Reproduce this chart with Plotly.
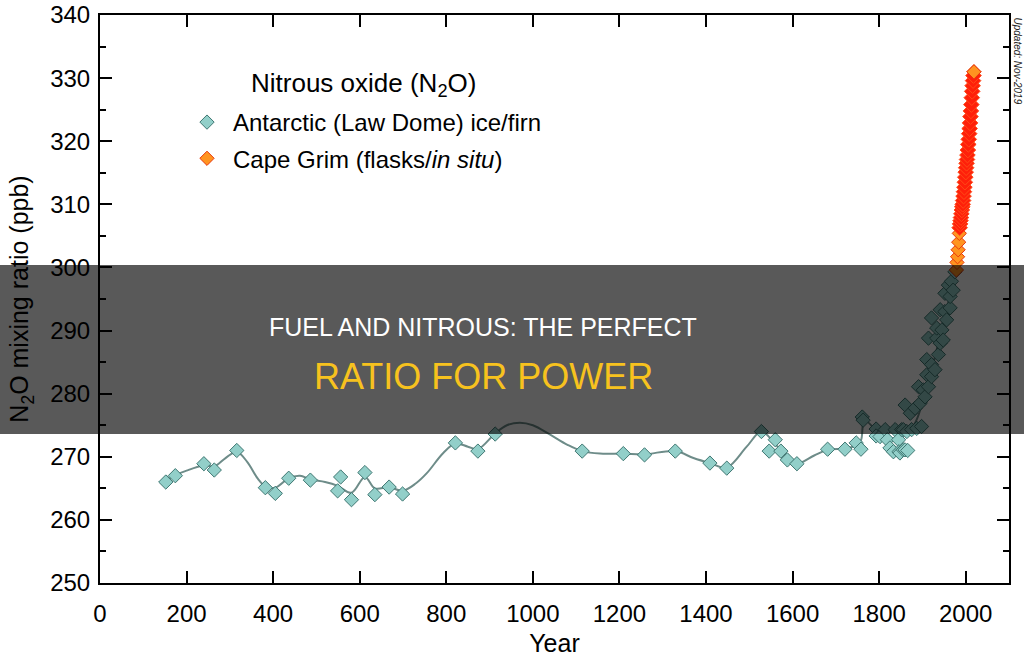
import plotly.graph_objects as go

# ---------------- data ----------------
law_year = [152, 174, 240, 264, 316, 382, 405, 436, 486, 549, 556, 581, 612, 635, 668, 699,
            821, 873, 913, 1114, 1209, 1258, 1329, 1409, 1448, 1528, 1546, 1560, 1573, 1588,
            1610, 1681, 1721, 1747, 1758, 1761, 1763, 1793, 1793, 1802, 1814, 1819, 1825,
            1833, 1837, 1845, 1846, 1848, 1852, 1856, 1856, 1860, 1860, 1864, 1866, 1872,
            1875, 1883, 1887, 1891, 1895, 1898, 1902, 1906, 1910, 1910, 1914, 1914, 1921,
            1921, 1921, 1929, 1933, 1933, 1937, 1941, 1941, 1945, 1948, 1952, 1952, 1956,
            1960, 1964, 1964, 1967, 1971, 1975]
law_ppb = [266.0, 267.0, 268.9, 267.9, 271.0, 265.1, 264.2, 266.6, 266.3, 264.6, 266.8, 263.2,
           267.5, 264.0, 265.2, 264.1, 272.2, 270.9, 273.6, 270.9, 270.5, 270.3, 270.9, 269.0,
           268.2, 274.0, 270.9, 272.7, 270.9, 269.5, 268.9, 271.2, 271.2, 272.2, 271.2, 276.3,
           275.8, 274.4, 273.3, 273.2, 274.3, 272.7, 271.4, 270.8, 274.3, 272.7, 270.8, 270.6,
           274.3, 271.1, 274.3, 271.1, 278.2, 274.0, 271.0, 276.9, 274.3, 277.7, 274.5, 281.1,
           278.5, 274.8, 280.6, 279.5, 283.0, 285.4, 281.1, 288.8, 282.7, 284.6, 292.0, 283.8,
           288.8, 290.4, 286.2, 288.0, 293.3, 290.1, 288.5, 293.0, 295.9, 291.7, 297.2, 293.6,
           295.4, 297.8, 296.4, 299.3]

fit_year = [152, 175, 200, 240, 265, 290, 316, 340, 365, 382, 405, 436, 462, 486, 520, 549,
            581, 612, 635, 668, 699, 730, 755, 793, 821, 850, 873, 913, 940, 970, 1000, 1040,
            1080, 1114, 1155, 1209, 1258, 1329, 1371, 1409, 1448, 1494, 1528, 1560, 1590,
            1610, 1650, 1681, 1721, 1747, 1758, 1766, 1793, 1820, 1850, 1880, 1900, 1920,
            1940, 1960, 1975]
fit_ppb = [266.2, 267.1, 267.8, 268.6, 268.5, 269.8, 270.8, 269.2, 266.5, 265.3, 265.1, 266.6,
           267.0, 266.4, 266.0, 265.4, 264.3, 266.8, 265.0, 265.2, 264.6, 265.8, 267.4, 270.6,
           272.1, 271.6, 271.2, 273.7, 275.0, 275.4, 275.0, 273.5, 271.9, 270.9, 270.5, 270.5,
           270.4, 270.9, 269.8, 269.0, 268.3, 271.6, 274.0, 272.0, 269.8, 268.9, 270.2, 271.1,
           271.3, 271.8, 272.6, 275.8, 274.2, 273.0, 273.2, 275.0, 278.5, 283.3, 289.0, 294.5,
           299.2]

flask_year = [1978.5, 1979.8, 1981.2, 1982.5, 1983.8, 1985.2, 2019.0]
flask_ppb = [299.6, 300.8, 301.7, 302.8, 304.0, 305.4, 331.0]

insitu_year = [1986, 1987, 1988, 1989, 1990, 1991, 1992, 1993, 1994, 1995, 1996, 1997,
               1998, 1999, 2000, 2001, 2002, 2003, 2004, 2005, 2006, 2007, 2008, 2009,
               2010, 2011, 2012, 2013, 2014, 2015, 2016, 2017, 2018]
insitu_ppb = [306.3, 306.9, 307.4, 307.9, 308.5, 309.1, 309.6, 310.0, 310.6, 311.3, 312.0,
              312.7, 313.5, 314.3, 315.1, 315.8, 316.5, 317.1, 317.8, 318.6, 319.5, 320.3,
              321.2, 322.0, 322.9, 323.9, 324.8, 325.8, 326.9, 327.9, 328.8, 329.6, 330.4]

x_ticks = [0, 200, 400, 600, 800, 1000, 1200, 1400, 1600, 1800, 2000]
y_ticks = [250, 260, 270, 280, 290, 300, 310, 320, 330, 340]

FONT = "Liberation Sans, Arial, sans-serif"

fig = go.Figure()

fig.add_trace(go.Scatter(x=fit_year, y=fit_ppb, mode="lines", line_shape="spline",
                         line=dict(color="#6e8c89", width=2), showlegend=False,
                         hoverinfo="skip"))
fig.add_trace(go.Scatter(x=law_year, y=law_ppb, mode="markers",
                         name="Antarctic (Law Dome) ice/firn", legendgroup="a",
                         marker=dict(symbol="diamond", size=11, color="#92cfc9",
                                     line=dict(color="#3f7772", width=1))))
fig.add_trace(go.Scatter(x=flask_year, y=flask_ppb, mode="markers",
                         name="Cape Grim (flasks/<i>in situ</i>)", legendgroup="b",
                         marker=dict(symbol="diamond", size=11, color="#ff9420",
                                     line=dict(color="#e8380c", width=1))))
fig.add_trace(go.Scatter(x=insitu_year, y=insitu_ppb, mode="markers", showlegend=False,
                         legendgroup="b",
                         marker=dict(symbol="diamond", size=12, color="#ff200a",
                                     line=dict(color="#ff4a18", width=1))))
# re-draw final flask point on top
fig.add_trace(go.Scatter(x=flask_year[-1:], y=flask_ppb[-1:], mode="markers", showlegend=False,
                         marker=dict(symbol="diamond", size=11, color="#ff9420",
                                     line=dict(color="#e8380c", width=1))))

axis_common = dict(showline=True, linecolor="black", linewidth=2, mirror="ticks",
                   ticks="inside", ticklen=12, tickwidth=2, tickcolor="black",
                   showgrid=False, zeroline=False, automargin=False,
                   tickfont=dict(family=FONT, size=24, color="black"))

fig.update_xaxes(range=[0, 2100], tickvals=x_ticks, ticktext=[str(v) for v in x_ticks],
                 title=dict(text="Year", font=dict(family=FONT, size=25, color="black"),
                            standoff=9),
                 ticklabelstandoff=8, **axis_common)
fig.update_yaxes(range=[250, 340], tickvals=y_ticks, ticktext=[str(v) for v in y_ticks],
                 minor=dict(dtick=5, tick0=250, ticks="inside", ticklen=6, tickwidth=2,
                            tickcolor="black", showgrid=False),
                 title=dict(text="N<sub>2</sub>O mixing ratio (ppb)",
                            font=dict(family=FONT, size=25, color="black"), standoff=14),
                 ticklabelstandoff=3, **axis_common)

fig.update_layout(
    width=1024, height=660,
    margin=dict(l=100, r=15, t=15, b=77, autoexpand=False),
    paper_bgcolor="white", plot_bgcolor="white",
    font=dict(family=FONT, color="black"),
    legend=dict(x=(181 - 100) / 909, y=(583 - 100) / 568, xanchor="left", yanchor="top",
                font=dict(family=FONT, size=24, color="black"),
                bgcolor="rgba(0,0,0,0)", tracegroupgap=2, itemwidth=42),
    shapes=[dict(type="rect", xref="paper", yref="paper",
                 x0=-0.2, x1=1.2, y0=(583 - 434) / 568, y1=(583 - 265) / 568,
                 fillcolor="rgba(0,0,0,0.65)", line=dict(width=0), layer="above")],
    annotations=[
        dict(text="Nitrous oxide (N<sub>2</sub>O)", xref="paper", yref="paper",
             x=(249 - 100) / 909, y=(583 - 85) / 568, xanchor="left", yanchor="middle",
             showarrow=False, font=dict(family=FONT, size=26, color="black")),
        dict(text="<i>Updated: Nov-2019</i>", xref="paper", yref="paper",
             x=(1017 - 100) / 909, y=1.0, xanchor="center", yanchor="top", textangle=90,
             showarrow=False, font=dict(family=FONT, size=10, color="#222222")),
        dict(text="FUEL AND NITROUS: THE PERFECT", xref="paper", yref="paper",
             x=(483 - 100) / 909, y=(583 - 327) / 568, xanchor="center", yanchor="middle",
             showarrow=False, font=dict(family=FONT, size=25, color="white")),
        dict(text="RATIO FOR POWER", xref="paper", yref="paper",
             x=(483 - 100) / 909, y=(583 - 377) / 568, xanchor="center", yanchor="middle",
             showarrow=False, font=dict(family=FONT, size=36, color="#f7c21e")),
    ],
)

fig.write_html("out.html")
